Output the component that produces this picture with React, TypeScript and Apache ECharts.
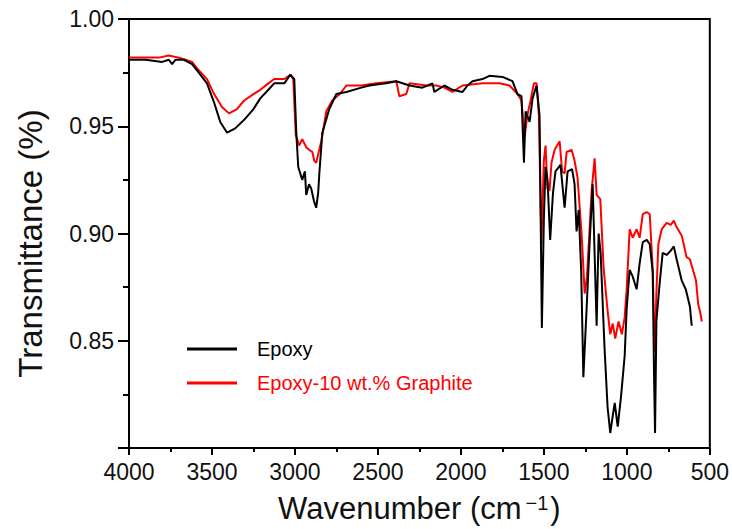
import React, { useEffect, useRef } from "react";
import * as echarts from "echarts";

const seriesNames = ["Epoxy", "Epoxy-10 wt.% Graphite"];

const epoxyWn = [4000, 3900, 3800, 3760, 3740, 3720, 3670, 3620, 3590, 3530, 3487, 3450, 3409, 3360, 3306, 3250, 3209, 3160, 3125, 3064, 3028, 3004, 2992, 2980, 2956, 2940, 2932, 2915, 2902, 2885, 2872, 2860, 2853, 2835, 2793, 2751, 2690, 2600, 2552, 2450, 2389, 2310, 2232, 2171, 2160, 2100, 2051, 1990, 1960, 1930, 1870, 1828, 1749, 1689, 1659, 1635, 1620, 1610, 1586, 1568, 1544, 1526, 1512, 1500, 1490, 1478, 1462, 1445, 1430, 1400, 1375, 1357, 1330, 1315, 1303, 1290, 1275, 1262, 1243, 1224, 1206, 1182, 1170, 1158, 1134, 1116, 1100, 1085, 1073, 1055, 1035, 1013, 1001, 983, 965, 941, 923, 904, 880, 862, 844, 836, 830, 822, 802, 784, 760, 735, 717, 700, 669, 645, 620, 609];
const epoxyT = [0.981, 0.981, 0.980, 0.981, 0.979, 0.981, 0.981, 0.979, 0.976, 0.970, 0.961, 0.952, 0.947, 0.949, 0.953, 0.958, 0.963, 0.967, 0.970, 0.970, 0.974, 0.972, 0.947, 0.931, 0.925, 0.929, 0.918, 0.923, 0.921, 0.915, 0.912, 0.919, 0.928, 0.947, 0.958, 0.965, 0.966, 0.968, 0.969, 0.970, 0.971, 0.969, 0.968, 0.970, 0.966, 0.969, 0.967, 0.966, 0.969, 0.971, 0.972, 0.9735, 0.973, 0.971, 0.965, 0.964, 0.933, 0.957, 0.952, 0.963, 0.969, 0.955, 0.856, 0.907, 0.931, 0.925, 0.897, 0.919, 0.929, 0.932, 0.912, 0.929, 0.930, 0.923, 0.901, 0.911, 0.882, 0.833, 0.864, 0.896, 0.923, 0.857, 0.900, 0.891, 0.846, 0.819, 0.807, 0.815, 0.821, 0.810, 0.824, 0.843, 0.865, 0.883, 0.880, 0.874, 0.886, 0.896, 0.897, 0.895, 0.882, 0.833, 0.807, 0.859, 0.877, 0.891, 0.890, 0.892, 0.894, 0.888, 0.878, 0.874, 0.866, 0.857];

const graphiteWn = [4000, 3900, 3820, 3760, 3700, 3660, 3620, 3590, 3530, 3487, 3440, 3397, 3350, 3306, 3250, 3209, 3160, 3125, 3064, 3028, 3010, 2995, 2975, 2956, 2930, 2914, 2895, 2884, 2872, 2860, 2841, 2811, 2775, 2730, 2690, 2600, 2510, 2389, 2371, 2329, 2310, 2208, 2148, 2100, 2051, 1990, 1870, 1767, 1707, 1659, 1635, 1616, 1600, 1580, 1560, 1544, 1530, 1515, 1500, 1490, 1478, 1466, 1454, 1435, 1405, 1390, 1375, 1363, 1333, 1315, 1297, 1272, 1254, 1240, 1212, 1194, 1182, 1160, 1140, 1116, 1100, 1085, 1070, 1050, 1030, 1013, 1001, 983, 965, 941, 923, 904, 880, 862, 844, 836, 830, 822, 810, 790, 760, 735, 717, 700, 669, 640, 620, 583, 570, 560, 548];
const graphiteT = [0.982, 0.982, 0.982, 0.983, 0.982, 0.981, 0.980, 0.977, 0.972, 0.965, 0.959, 0.956, 0.958, 0.962, 0.965, 0.967, 0.970, 0.972, 0.972, 0.974, 0.972, 0.946, 0.941, 0.944, 0.940, 0.939, 0.938, 0.934, 0.933, 0.937, 0.943, 0.957, 0.962, 0.965, 0.969, 0.969, 0.970, 0.971, 0.964, 0.965, 0.970, 0.969, 0.969, 0.968, 0.966, 0.969, 0.970, 0.970, 0.969, 0.965, 0.962, 0.945, 0.955, 0.962, 0.970, 0.970, 0.955, 0.895, 0.934, 0.941, 0.921, 0.920, 0.933, 0.939, 0.943, 0.929, 0.928, 0.938, 0.939, 0.934, 0.926, 0.899, 0.872, 0.880, 0.920, 0.935, 0.918, 0.916, 0.884, 0.864, 0.853, 0.858, 0.851, 0.859, 0.853, 0.861, 0.874, 0.902, 0.898, 0.902, 0.898, 0.909, 0.910, 0.909, 0.883, 0.857, 0.845, 0.872, 0.895, 0.902, 0.905, 0.904, 0.906, 0.903, 0.899, 0.889, 0.888, 0.878, 0.867, 0.864, 0.859];

const xMin = 500;
const xMax = 4000;
const xStep = 500;
const yMin = 0.8;
const yMax = 1.0;
const yStep = 0.05;

const FONT = "'Liberation Sans', Arial, sans-serif";

export default function App() {
  const ref = useRef<HTMLDivElement>(null);
  useEffect(() => {
    if (!ref.current) return;
    const chart = echarts.init(ref.current, undefined, { renderer: "svg" });
    const pair = (xs: number[], ys: number[]) => xs.map((x, i) => [x, ys[i]]);
    chart.setOption({
      animation: false,
      backgroundColor: "#ffffff",
      textStyle: { fontFamily: FONT },
      grid: {
        left: 129,
        right: 21,
        top: 19,
        bottom: 81,
        show: true,
        borderColor: "#000",
        borderWidth: 2,
        backgroundColor: "transparent",
      },
      legend: {
        orient: "vertical",
        left: 182,
        top: 334,
        itemWidth: 50,
        itemHeight: 3,
        itemGap: 14,
        icon: "rect",
        selectedMode: false,
        textStyle: { fontSize: 20, fontFamily: FONT, lineHeight: 20, padding: [0, 0, 0, 15] },
        data: [
          { name: seriesNames[0], textStyle: { color: "#000" } },
          { name: seriesNames[1], textStyle: { color: "#ff0000" } },
        ],
      },
      xAxis: {
        type: "value",
        inverse: true,
        min: xMin,
        max: xMax,
        interval: xStep,
        name: "Wavenumber (cm{sup|−1})",
        nameLocation: "middle",
        nameGap: 45,
        nameTextStyle: {
          fontSize: 31,
          color: "#111",
          fontFamily: FONT,
          rich: {
            sup: { fontSize: 20, verticalAlign: "top", fontFamily: FONT, color: "#111", padding: [0, 2, 0, 4] },
          },
        },
        axisLine: { show: true, lineStyle: { color: "#000", width: 2 } },
        axisTick: { show: true, length: 7, lineStyle: { color: "#000", width: 2 } },
        minorTick: { show: true, splitNumber: 2, length: 4, lineStyle: { color: "#000", width: 2 } },
        splitLine: { show: false },
        axisLabel: {
          fontSize: 23,
          color: "#111",
          margin: 12,
          fontFamily: FONT,
          formatter: (v: number) => String(Math.round(v)),
        },
      },
      yAxis: {
        type: "value",
        min: yMin,
        max: yMax,
        interval: yStep,
        name: "Transmittance (%)",
        nameLocation: "middle",
        nameGap: 82,
        nameTextStyle: { fontSize: 33, color: "#111", fontFamily: FONT, padding: [0, 20, 0, 0] },
        axisLine: { show: true, lineStyle: { color: "#000", width: 2 } },
        axisTick: { show: true, length: 11, lineStyle: { color: "#000", width: 2 } },
        minorTick: { show: true, splitNumber: 2, length: 6, lineStyle: { color: "#000", width: 2 } },
        splitLine: { show: false },
        axisLabel: {
          fontSize: 23,
          color: "#111",
          margin: 15,
          fontFamily: FONT,
          formatter: (v: number) => (v < yMin + 0.01 ? "" : v.toFixed(2)),
        },
      },
      series: [
        {
          name: seriesNames[1],
          type: "line",
          data: pair(graphiteWn, graphiteT),
          showSymbol: false,
          symbol: "none",
          color: "#ff0000",
          lineStyle: { color: "#ff0000", width: 2 },
          z: 2,
        },
        {
          name: seriesNames[0],
          type: "line",
          data: pair(epoxyWn, epoxyT),
          showSymbol: false,
          symbol: "none",
          color: "#000000",
          lineStyle: { color: "#000000", width: 2 },
          z: 3,
        },
      ],
    });
    return () => chart.dispose();
  }, []);
  return (
    <div
      ref={ref}
      style={{ position: "fixed", left: 0, top: 0, width: 732, height: 529 }}
    />
  );
}
